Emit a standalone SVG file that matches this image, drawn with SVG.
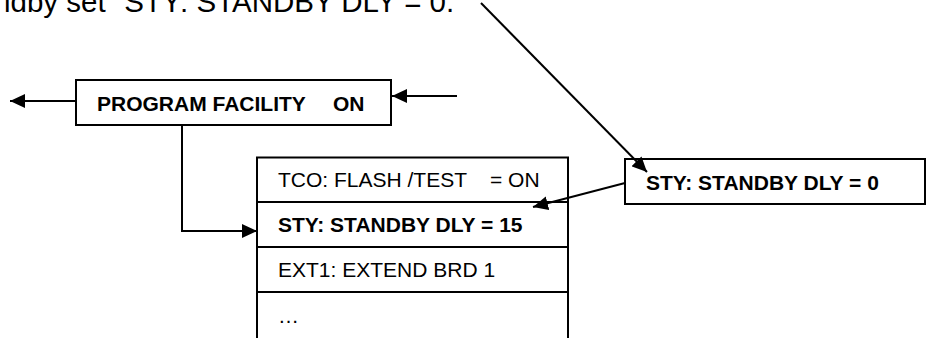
<svg xmlns="http://www.w3.org/2000/svg" width="936" height="338" viewBox="0 0 936 338">
<style>
text{font-family:"Liberation Sans",Arial,sans-serif;fill:#000}
.b{font-weight:bold;font-size:21px}
.n{font-size:21px}
.box{fill:#fff;stroke:#000;stroke-width:2}
.ln{fill:none;stroke:#000;stroke-width:2}
</style>
<defs>
<marker id="ah" markerWidth="16" markerHeight="14" refX="15" refY="7" orient="auto" markerUnits="userSpaceOnUse">
<path d="M0,0 L15,7 L0,14 Z" fill="#000"/>
</marker>
</defs>
<g id="note">
<text x="4" y="12" style="font-size:29.5px">ldby set "STY: STANDBY DLY = 0.</text>
</g>
<g id="program-facility">
<rect class="box" x="76" y="80" width="315" height="45"/>
<text class="b" x="97" y="111">PROGRAM FACILITY</text>
<text class="b" x="333" y="111">ON</text>
</g>
<g id="menu">
<rect class="box" x="257" y="157.5" width="311" height="190"/>
<line class="ln" x1="257" y1="202" x2="568" y2="202"/>
<line class="ln" x1="257" y1="247" x2="568" y2="247"/>
<line class="ln" x1="257" y1="292" x2="568" y2="292"/>
<text class="n" x="278" y="187">TCO: FLASH /TEST</text>
<text class="n" x="490" y="187">= ON</text>
<text class="b" x="278" y="232">STY: STANDBY DLY = 15</text>
<text class="n" x="278" y="277">EXT1: EXTEND BRD 1</text>
<text class="n" x="278" y="323">…</text>
</g>
<g id="new-value">
<rect class="box" x="625" y="159" width="300" height="45"/>
<text class="b" x="646" y="190">STY: STANDBY DLY = 0</text>
</g>
<g id="connectors">
<line class="ln" x1="76" y1="101" x2="10" y2="101" marker-end="url(#ah)"/>
<line class="ln" x1="457" y1="96" x2="392" y2="96" marker-end="url(#ah)"/>
<polyline class="ln" points="182,125 182,231 257,231" marker-end="url(#ah)"/>
<line class="ln" x1="481" y1="3" x2="647" y2="172" marker-end="url(#ah)"/>
<line class="ln" x1="625" y1="183" x2="533" y2="207" marker-end="url(#ah)"/>
</g>
</svg>
